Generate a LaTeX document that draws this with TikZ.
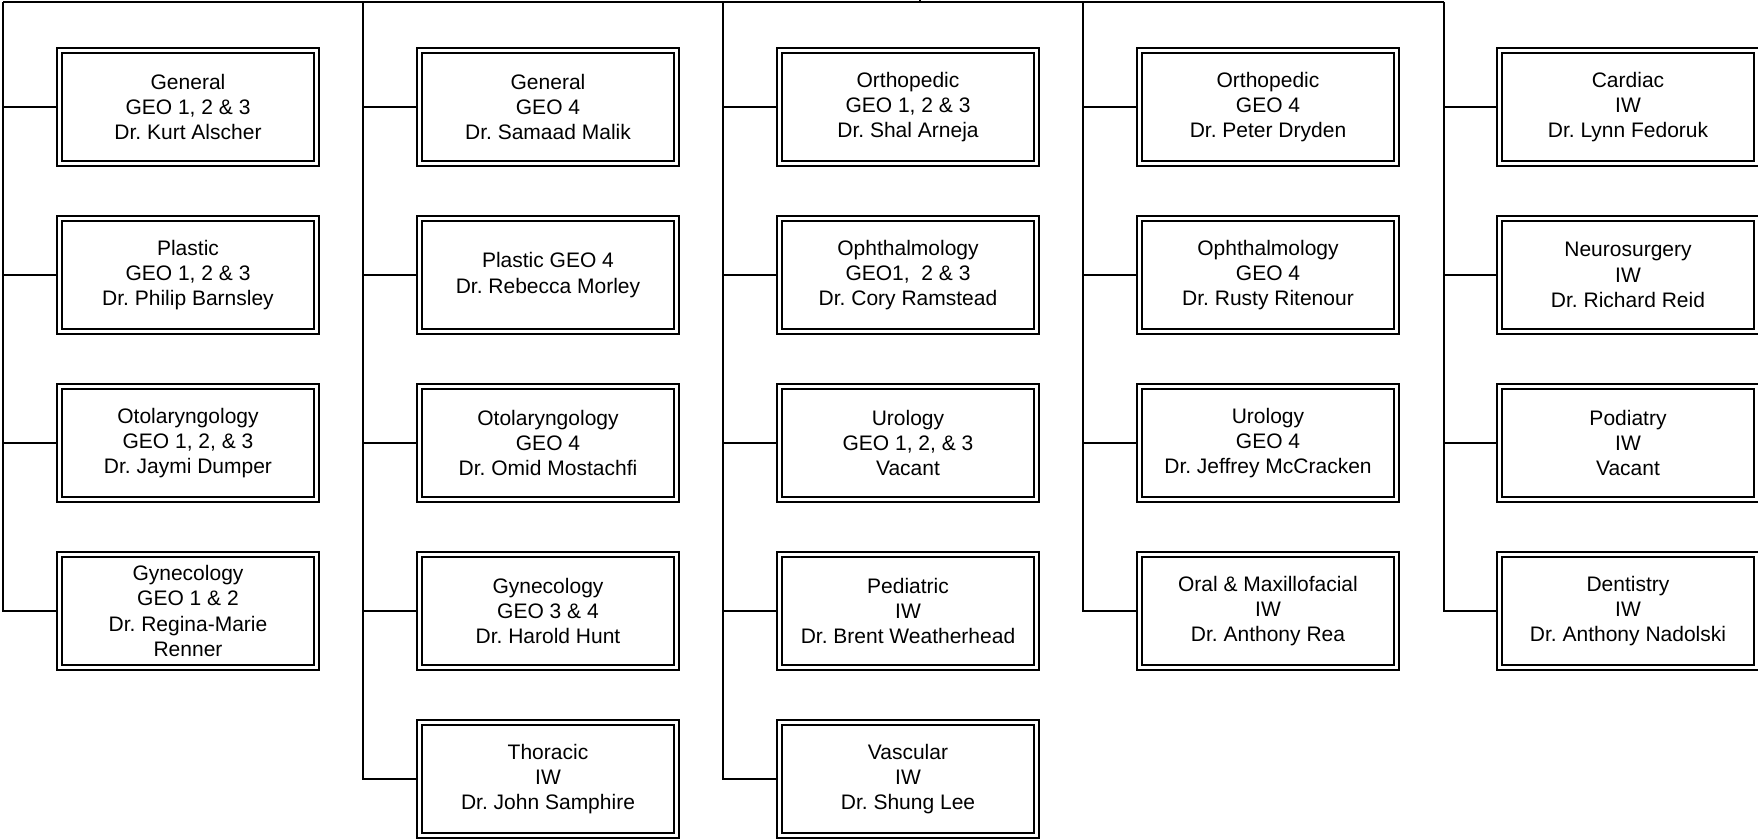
\documentclass[tikz,border=0pt]{standalone}
\usepackage{fontspec}
\setmainfont{Liberation Sans}
\frenchspacing
\tikzset{
  dbox/.style={draw, line width=1.1pt, minimum width=131pt, minimum height=59pt,
    inner sep=0pt, align=center, font=\fontsize{10.5pt}{12.6pt}\selectfont\frenchspacing,
    path picture={\draw[line width=0.75pt]
      ([shift={(2.4pt,2.4pt)}]path picture bounding box.south west) rectangle
      ([shift={(-2.4pt,-2.4pt)}]path picture bounding box.north east);}},
  conn/.style={line width=1pt}
}
\begin{document}
\begin{tikzpicture}[x=0.5pt,y=-0.5pt]
\useasboundingbox (0,0) rectangle (1758,840);
% column top coordinates
\coordinate (t0) at (3,2);
\coordinate (t1) at (363,2);
\coordinate (t2) at (723,2);
\coordinate (t3) at (1083,2);
\coordinate (t4) at (1444,2);
\coordinate (tp) at (920,0);
\coordinate (tq) at (920,2);
% column 0
\node[dbox] (a0) at (188,107) {General\\GEO 1, 2 \& 3\\Dr. Kurt Alscher};
\node[dbox] (a1) at (188,275) {Plastic\\GEO 1, 2 \& 3\\Dr. Philip Barnsley};
\node[dbox] (a2) at (188,443) {Otolaryngology\\GEO 1, 2, \& 3\\Dr. Jaymi Dumper};
\node[dbox] (a3) at (188,611) {Gynecology\\GEO 1 \& 2\\Dr. Regina-Marie\\Renner};
% column 1
\node[dbox] (b0) at (548,107) {General\\GEO 4\\Dr. Samaad Malik};
\node[dbox] (b1) at (548,275) {Plastic GEO 4\\Dr. Rebecca Morley};
\node[dbox] (b2) at (548,443) {Otolaryngology\\GEO 4\\Dr. Omid Mostachfi};
\node[dbox] (b3) at (548,611) {Gynecology\\GEO 3 \& 4\\Dr. Harold Hunt};
\node[dbox] (b4) at (548,779) {Thoracic\\IW\\Dr. John Samphire};
% column 2
\node[dbox] (c0) at (908,107) {Orthopedic\\GEO 1, 2 \& 3\\Dr. Shal Arneja};
\node[dbox] (c1) at (908,275) {Ophthalmology\\GEO1,\ \ 2 \& 3\\Dr. Cory Ramstead};
\node[dbox] (c2) at (908,443) {Urology\\GEO 1, 2, \& 3\\Vacant};
\node[dbox] (c3) at (908,611) {Pediatric\\IW\\Dr. Brent Weatherhead};
\node[dbox] (c4) at (908,779) {Vascular\\IW\\Dr. Shung Lee};
% column 3
\node[dbox] (d0) at (1268,107) {Orthopedic\\GEO 4\\Dr. Peter Dryden};
\node[dbox] (d1) at (1268,275) {Ophthalmology\\GEO 4\\Dr. Rusty Ritenour};
\node[dbox] (d2) at (1268,443) {Urology\\GEO 4\\Dr. Jeffrey McCracken};
\node[dbox] (d3) at (1268,611) {Oral \& Maxillofacial\\IW\\Dr. Anthony Rea};
% column 4
\node[dbox] (e0) at (1628,107) {Cardiac\\IW\\Dr. Lynn Fedoruk};
\node[dbox] (e1) at (1628,275) {Neurosurgery\\IW\\Dr. Richard Reid};
\node[dbox] (e2) at (1628,443) {Podiatry\\IW\\Vacant};
\node[dbox] (e3) at (1628,611) {Dentistry\\IW\\Dr. Anthony Nadolski};
% connectors
\draw[conn] (t0) -- (t4);
\draw[conn] (tp) -- (tq);
\draw[conn] (t0) |- (a3.west);
\draw[conn] (t1) |- (b4.west);
\draw[conn] (t2) |- (c4.west);
\draw[conn] (t3) |- (d3.west);
\draw[conn] (t4) |- (e3.west);
\foreach \n in {a0,a1,a2} \draw[conn] (t0 |- \n.west) -- (\n.west);
\foreach \n in {b0,b1,b2,b3} \draw[conn] (t1 |- \n.west) -- (\n.west);
\foreach \n in {c0,c1,c2,c3} \draw[conn] (t2 |- \n.west) -- (\n.west);
\foreach \n in {d0,d1,d2} \draw[conn] (t3 |- \n.west) -- (\n.west);
\foreach \n in {e0,e1,e2} \draw[conn] (t4 |- \n.west) -- (\n.west);
\end{tikzpicture}
\end{document}
